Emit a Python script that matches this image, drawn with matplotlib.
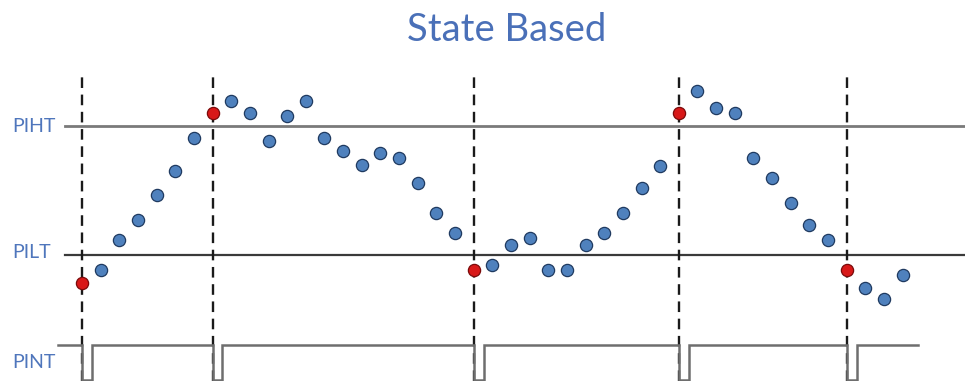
import matplotlib.pyplot as plt
import numpy as np

# sampled input level (height above bottom, px-ish units), one value per sample
level = [98, 111, 141, 161, 186, 210, 243, 268, 280, 268, 240, 265, 280, 243, 230,
         216, 228, 223, 198, 168, 148, 111, 116, 136, 143, 111, 111, 136, 148, 168,
         193, 215, 268, 290, 273, 268, 223, 203, 178, 156, 141, 111, 93, 82, 106]
# samples where the interrupt fires (state change)
trigger_idx = [0, 7, 21, 32, 41]

piht = 255
pilt = 126
pint_high = 36
pint_low = 1.5
pulse_width = 0.53

labels = ['PIHT', 'PILT', 'PINT']
title = 'State Based'

# pixel mapping of the picture: sample i sits at 82 + 18.65*i px
W, H = 965, 381
x0, dx = 82.0, 18.65
xmin, xmax = -x0 / dx, (W - x0) / dx

fig = plt.figure(figsize=(W / 100, H / 100), dpi=100)
ax = fig.add_axes([0, 0, 1, 1])
ax.set_xlim(xmin, xmax)
ax.set_ylim(0, H)
ax.axis('off')

blue_txt = '#4F76BC'
font = ['Lato', 'DejaVu Sans']

# threshold lines
line_start = (65 - x0) / dx
ax.plot([line_start, xmax], [piht, piht], color='#7a7a7a', lw=2, zorder=1)
ax.plot([line_start, xmax], [pilt, pilt], color='#3a3a3a', lw=1.6, zorder=1)

# vertical dashed lines at each trigger
for i in trigger_idx:
    ax.plot([i, i], [0, H - 75], color='#1a1a1a', lw=1.7, dashes=(4.5, 2.8), zorder=1)

# PINT signal
px = [(58 - x0) / dx]
py = [pint_high]
for i in trigger_idx:
    px += [i, i, i + pulse_width, i + pulse_width]
    py += [pint_high, pint_low, pint_low, pint_high]
px.append((918 - x0) / dx)
py.append(pint_high)
ax.plot(px, py, color='#6e6e6e', lw=1.8, zorder=1, solid_joinstyle='miter')

# samples
idx = np.arange(len(level))
lv = np.array(level)
normal = np.setdiff1d(idx, trigger_idx)
ax.plot(normal, lv[normal], 'o', ms=8.8, mfc='#4F81BD', mec='#1F3A60', mew=0.9,
        ls='none', zorder=3)
ax.plot(trigger_idx, lv[trigger_idx], 'o', ms=8.8, mfc='#D81818', mec='#7a0a0a',
        mew=0.9, ls='none', zorder=3)

# labels
lx = (12 - x0) / dx
ax.text(lx, piht, labels[0], color=blue_txt, fontsize=14, family=font, va='center', ha='left')
ax.text(lx, pilt + 3, labels[1], color=blue_txt, fontsize=14, family=font, va='center', ha='left')
ax.text(lx, H - 362, labels[2], color=blue_txt, fontsize=14, family=font, va='center', ha='left')

fig.text(507 / W, 1 - 30 / H, title, color='#4A70B8', fontsize=27.5, family=font,
         ha='center', va='center')

fig.savefig('out.png', dpi=100)
